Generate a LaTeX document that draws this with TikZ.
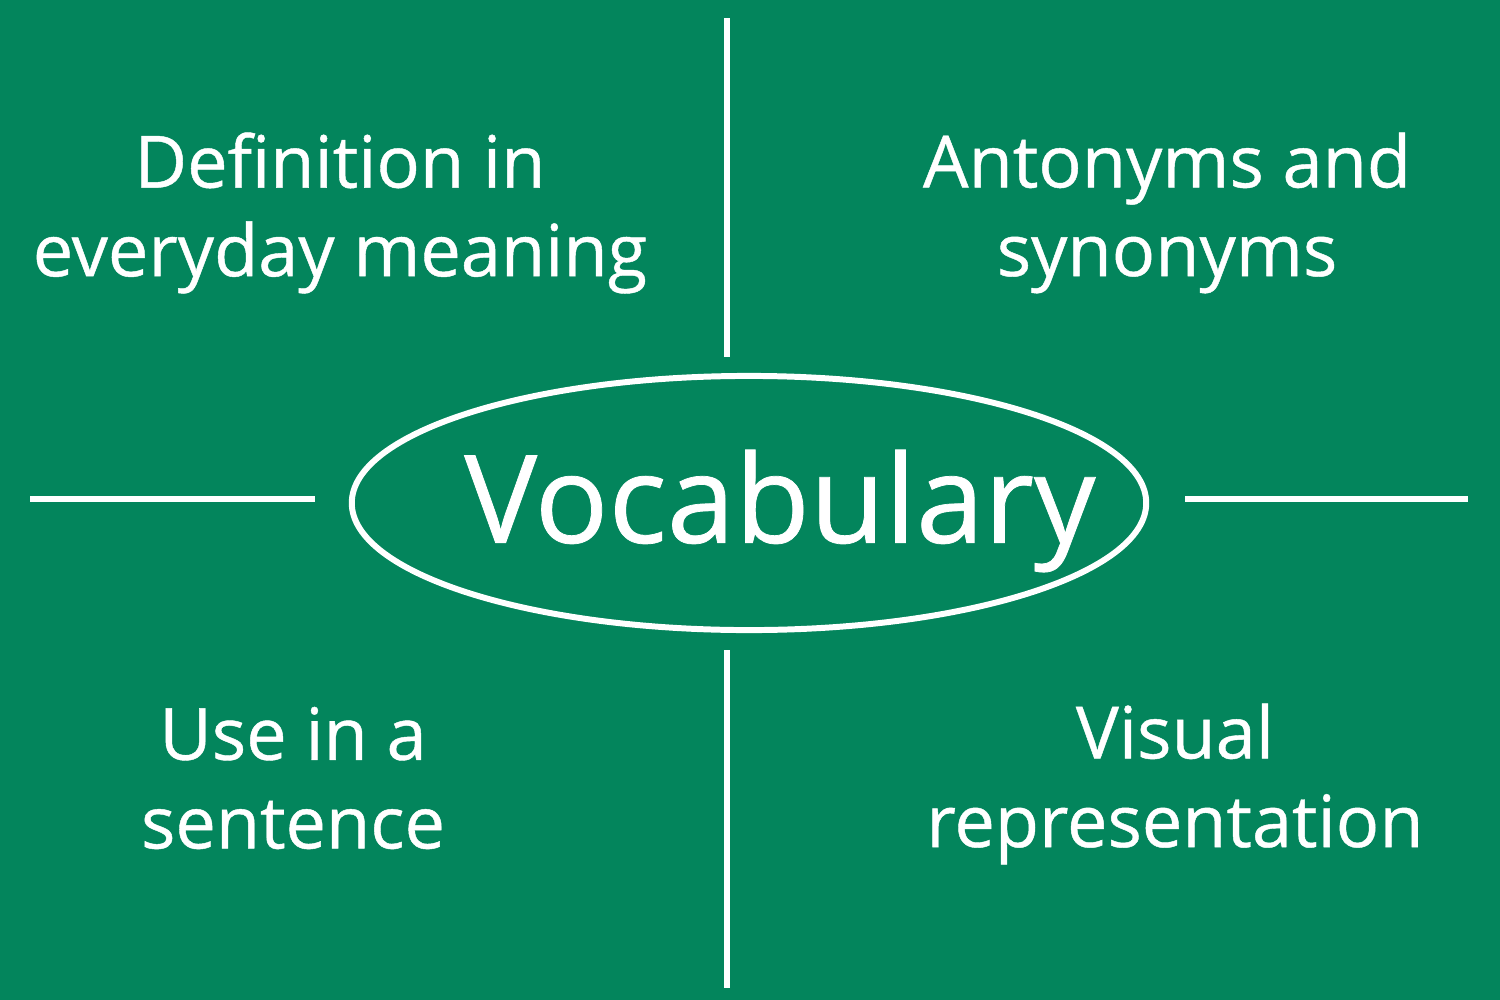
\documentclass[tikz,border=0pt]{standalone}
\usepackage{fontspec}
\setmainfont{Open Sans}[FakeBold=0.6]
\usepackage{xcolor}
\usetikzlibrary{shapes.geometric}
\definecolor{vocgreen}{RGB}{3,133,92}

\begin{document}
\begin{tikzpicture}[x=0.01cm,y=-0.01cm,
		strich/.style={white, line width=1.7pt},
		feld/.style={white, align=center, font=\fontsize{20.5}{25.2}\selectfont},
		titel/.style={white, font=\fontsize{34.8}{40}\selectfont}]
		% Hintergrund
		\fill[vocgreen] (0,0) rectangle (1500,1000);

		% Koordinaten
		\coordinate (ot) at (727,18);
		\coordinate (om) at (727,357);
		\coordinate (ut) at (727,650);
		\coordinate (ub) at (727,988);
		\coordinate (la) at (30,499);
		\coordinate (lb) at (315,499);
		\coordinate (ra) at (1185,499);
		\coordinate (rb) at (1468,499);

		% Ellipse
		\node[draw=white, line width=1.7pt, ellipse, minimum width=7.94cm, minimum height=2.54cm, inner sep=0pt] (oval) at (749,503) {};
		\node[titel] (vocab) at (780,511) {Vocabulary};

		% Linien
		\draw[strich] (ot) -- (om);
		\draw[strich] (ut) -- (ub);
		\draw[strich] (la) -- (lb);
		\draw[strich] (ra) -- (rb);

		% Felder
		\node[feld] (def) at (340,213) {Definition in\\everyday meaning};
		\node[feld] (ant) at (1167,213) {Antonyms and\\synonyms};
		\node[feld] (use) at (293,778) {Use in a\\sentence};
		\node[feld] (vis) at (1175,784) {Visual\\representation};
	\end{tikzpicture}
\end{document}
